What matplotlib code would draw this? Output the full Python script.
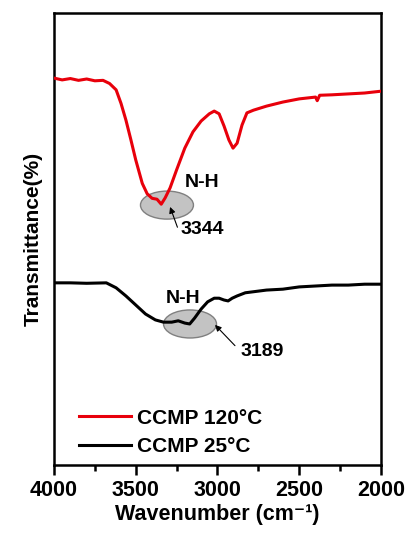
import matplotlib
matplotlib.use("Agg")
import matplotlib.pyplot as plt
from matplotlib.patches import Ellipse
from matplotlib.ticker import MultipleLocator

plt.rcParams['font.family'] = ['Liberation Sans', 'DejaVu Sans']
plt.rcParams['font.weight'] = 'bold'

# ---------------- DATA ----------------
wn_120 = [4000, 3950, 3900, 3850, 3800, 3750, 3700, 3660, 3620, 3590, 3560, 3530, 3500,
          3460, 3430, 3400, 3370, 3344, 3320, 3290, 3250, 3200, 3150, 3100, 3050, 3020,
          2990, 2960, 2930, 2905, 2880, 2850, 2820, 2780, 2700, 2600, 2500, 2400, 2390,
          2385, 2375, 2300, 2200, 2100, 2000]
t_120 = [85.6, 85.2, 85.5, 85.1, 85.4, 85.0, 85.1, 84.4, 83.0, 80.0, 76.3, 72.0, 67.5,
         62.3, 60.0, 59.0, 58.8, 57.7, 59.1, 61.3, 65.3, 70.1, 73.7, 76.1, 77.7, 78.3,
         77.7, 75.0, 71.9, 70.1, 71.2, 75.2, 77.9, 78.5, 79.4, 80.3, 81.0, 81.4, 80.6,
         81.0, 81.8, 81.9, 82.1, 82.3, 82.7]

wn_25 = [4000, 3900, 3800, 3680, 3620, 3560, 3500, 3440, 3380, 3330, 3280, 3240, 3200,
         3170, 3140, 3100, 3060, 3020, 2990, 2960, 2935, 2910, 2880, 2830, 2700, 2600,
         2500, 2400, 2300, 2200, 2100, 2000]
t_25 = [40.3, 40.3, 40.2, 40.3, 39.2, 37.4, 35.4, 33.4, 32.1, 31.6, 31.6, 31.9, 31.4,
        31.2, 32.5, 34.5, 36.1, 36.9, 36.9, 36.5, 36.3, 36.9, 37.4, 38.1, 38.7, 38.9,
        39.4, 39.6, 39.8, 39.8, 40.0, 40.0]

labels = ['CCMP 120\u00b0C', 'CCMP 25\u00b0C']
peaks = ['3344', '3189']

# ---------------- FIGURE ----------------
fig = plt.figure(figsize=(4.09, 5.33), dpi=100)
ax = fig.add_axes([0.132, 0.1276, 0.7995, 0.848])

# shaded N-H regions
ax.add_patch(Ellipse((3309, 57.5), 324, 6.2, facecolor='#c3c3c3',
                     edgecolor='#808080', linewidth=1, zorder=1))
ax.add_patch(Ellipse((3168, 31.2), 324, 6.2, facecolor='#c3c3c3',
                     edgecolor='#808080', linewidth=1, zorder=1))

ax.plot(wn_120, t_120, color='#e8000b', linewidth=2.2, label=labels[0], zorder=3)
ax.plot(wn_25, t_25, color='black', linewidth=2.2, label=labels[1], zorder=3)

# annotations
arrow = dict(arrowstyle='-|>', color='black', lw=0.8, mutation_scale=9,
             shrinkA=0, shrinkB=0)
ax.text(3095, 62.4, 'N-H', fontsize=14, fontweight='bold', ha='center', va='center')
ax.text(3095, 52.0, peaks[0], fontsize=14, fontweight='bold', ha='center', va='center')
ax.annotate('', xy=(3290, 57.1), xytext=(3245, 52.6), arrowprops=arrow, zorder=4)

ax.text(3211, 36.9, 'N-H', fontsize=14, fontweight='bold', ha='center', va='center')
ax.text(2728, 25.0, peaks[1], fontsize=14, fontweight='bold', ha='center', va='center')
ax.annotate('', xy=(3015, 31.0), xytext=(2893, 26.4), arrowprops=arrow, zorder=4)

ax.set_xlim(4000, 2000)
ax.set_ylim(0, 100)
ax.xaxis.set_major_locator(MultipleLocator(500))
ax.xaxis.set_minor_locator(MultipleLocator(250))
ax.set_yticks([])
ax.tick_params(axis='x', which='major', direction='out', length=7, width=1.8,
               labelsize=15.5, pad=4)
ax.tick_params(axis='x', which='minor', direction='out', length=4, width=1.8)
for lbl in ax.get_xticklabels():
    lbl.set_fontweight('bold')
for sp in ax.spines.values():
    sp.set_linewidth(1.8)

ax.set_xlabel('Wavenumber (cm\u207b\u00b9)', fontsize=15.5, fontweight='bold', labelpad=2)
ax.set_ylabel('Transmittance(%)', fontsize=15, fontweight='bold', labelpad=8)

leg = ax.legend(loc='lower left', bbox_to_anchor=(0.075, 0.02), frameon=False,
                prop={'size': 15, 'weight': 'bold'}, handlelength=2.5,
                handletextpad=0.3, labelspacing=0.45, borderpad=0, borderaxespad=0)

fig.savefig('out.png', dpi=100)
